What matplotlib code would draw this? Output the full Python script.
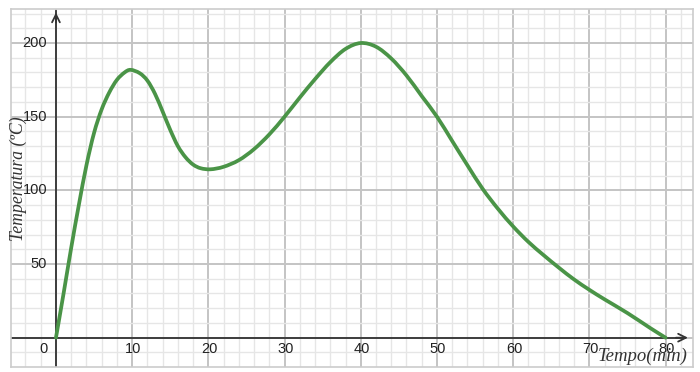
import matplotlib
matplotlib.use("Agg")
import matplotlib.pyplot as plt
from matplotlib.path import Path
from matplotlib.patches import PathPatch
import numpy as np

# data
tempo = [0, 1, 2, 3, 4, 5, 6, 7, 8, 9, 9.8, 11, 12, 13, 14, 15, 16, 17, 18, 19, 20.3,
         22, 24, 26, 28, 30, 32, 34, 36, 38, 40, 42, 44, 46, 48, 50, 52, 54, 56, 58,
         60, 62, 64, 66, 68, 70, 72, 75, 78, 80]
temperatura = [0, 30, 61, 90, 117, 139, 155, 166.5, 175, 180, 181.8, 179.5, 174.5, 165.5, 153.5,
               141, 130, 122.5, 117.5, 115, 114.3, 116, 120.5, 128, 138, 150, 163, 175.5,
               187, 196, 200, 197.5, 189.5, 178, 164, 150, 133.5, 117, 101, 87.5,
               75.5, 65, 56, 47.5, 39.5, 32.5, 26, 16.7, 6.5, 0]

x_ticks = [0, 10, 20, 30, 40, 50, 60, 70, 80]
y_ticks = [50, 100, 150, 200]
x_label = "Tempo(min)"
y_label = "Temperatura (ºC)"

W, H = 700, 372
fig = plt.figure(figsize=(W / 100, H / 100), dpi=100)
ax = fig.add_axes([11 / W, 1 - 367 / H, (693 - 11) / W, (367 - 9) / H])
ax.set_xlim(-5.9, 83.6)
ax.set_ylim(-19.9, 223.1)

# grid
for v in np.arange(-4, 84, 2):
    major = (v % 10 == 0)
    ax.axvline(v, color="#c4c4c4" if major else "#e6e6e6", lw=1.4 if major else 1.0, zorder=0)
for v in np.arange(-10, 224, 10):
    major = (v % 50 == 0)
    ax.axhline(v, color="#c4c4c4" if major else "#e6e6e6", lw=1.4 if major else 1.0, zorder=0)

for s in ax.spines.values():
    s.set_color("#cccccc")
    s.set_linewidth(1.2)
ax.set_xticks([])
ax.set_yticks([])

# axes with arrows
axis_col = "#333333"
ax.plot([-5.9, 82.6], [0, 0], color=axis_col, lw=1.3, zorder=2)
ax.plot([0, 0], [-19.9, 221.5], color=axis_col, lw=1.3, zorder=2)
ax.annotate("", xy=(83.3, 0), xytext=(81, 0),
            arrowprops=dict(arrowstyle="->", color=axis_col, lw=1.3, mutation_scale=14), zorder=3)
ax.annotate("", xy=(0, 222.6), xytext=(0, 212),
            arrowprops=dict(arrowstyle="->", color=axis_col, lw=1.3, mutation_scale=14), zorder=3)

# smooth curve through the read points (Catmull-Rom rendered as Bezier path)
P = np.column_stack([tempo, temperatura]).astype(float)
Pe = np.vstack([P[0], P, P[-1]])
verts = [tuple(P[0])]
codes = [Path.MOVETO]
for i in range(1, len(Pe) - 2):
    p0, p1, p2, p3 = Pe[i - 1], Pe[i], Pe[i + 1], Pe[i + 2]
    c1 = p1 + (p2 - p0) / 6.0
    c2 = p2 - (p3 - p1) / 6.0
    verts += [tuple(c1), tuple(c2), tuple(p2)]
    codes += [Path.CURVE4] * 3
ax.add_patch(PathPatch(Path(verts, codes), facecolor="none", edgecolor="#4a9447",
                       lw=2.7, capstyle="round", joinstyle="round", zorder=4))

# tick labels
tf = dict(family="Liberation Sans", fontsize=10.5, color="#222222")
for t in x_ticks:
    if t == 0:
        ax.text(-1.6, -8, "0", ha="center", va="center", **tf)
    else:
        ax.text(t + 0.15, -8, str(t), ha="center", va="center", **tf)
for t in y_ticks:
    ax.text(-1.15, t, str(t), ha="right", va="center", **tf)

lf = dict(family="Liberation Serif", style="italic", color="#333333")
ax.text(82.9, -12.8, x_label, ha="right", va="center", fontsize=13.5, **lf)
ax.text(-5.0, 107.6, y_label, ha="center", va="center", rotation=90, fontsize=12.8, **lf)

fig.savefig("out.png", dpi=100)
